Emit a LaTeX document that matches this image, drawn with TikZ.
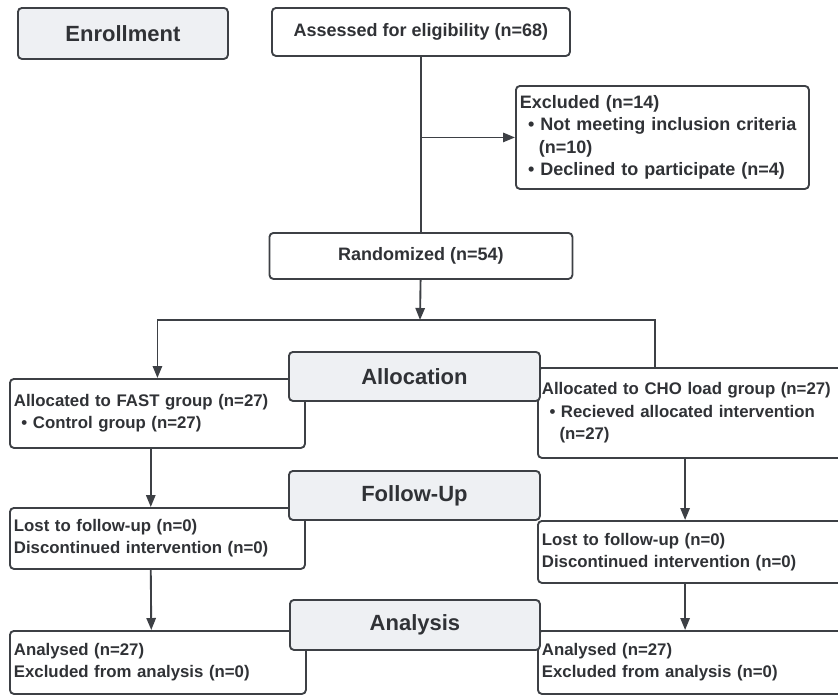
\documentclass[tikz,border=0pt]{standalone}
\usepackage{fontspec}
\setmainfont{Liberation Sans}
\usetikzlibrary{arrows.meta}

\definecolor{edge}{HTML}{3D4045}
\definecolor{hfill}{HTML}{EEF0F3}
\definecolor{ink}{HTML}{303236}
\newcommand{\bul}{\hspace*{0.45em}\textbullet\ }

\begin{document}
\begin{tikzpicture}[
x=0.75pt, y=-0.75pt,
box/.style={draw=edge, line width=1.4pt, rounded corners=3pt, fill=white, text=ink, inner xsep=3pt, anchor=north west, font=\bfseries\fontsize{13.5}{16.8}\selectfont},
hdr/.style={box, fill=hfill, font=\bfseries\fontsize{16.5}{20}\selectfont},
lbox/.style={box, align=left},
gbox/.style={lbox, font=\bfseries\fontsize{12.6}{16.8}\selectfont},
arrow/.style={-{Triangle[length=9pt,width=7pt]}, draw=edge, line width=1.4pt},
line/.style={draw=edge, line width=1.4pt}
]
\useasboundingbox (0,0) rectangle (838,694);

% enrollment
\node[box, minimum width=223.5pt, minimum height=36pt] (assessed) at (271,7) {Assessed for eligibility (n=68)};
\node[lbox, text width=213.75pt, minimum height=77.25pt] (excluded) at (515,85) {Excluded (n=14)\\
\bul Not meeting inclusion criteria\\
\hspace*{1.05em}(n=10)\\
\bul Declined to participate (n=4)};
\node[box, minimum width=227.25pt, minimum height=34.5pt] (random) at (268.5,232) {Randomized (n=54)};

% allocation
\node[gbox, text width=215.25pt, minimum height=51.75pt] (fast) at (9,378) {Allocated to FAST group (n=27)\\
\bul Control group (n=27)};
\node[gbox, text width=222.75pt, minimum height=67.5pt] (cho) at (537,367) {Allocated to CHO load group (n=27)\\
\bul Recieved allocated intervention\\
\hspace*{1.05em}(n=27)};

% follow-up
\node[gbox, text width=215.25pt, minimum height=45.75pt] (lostl) at (9,507) {Lost to follow-up (n=0)\\
Discontinued intervention (n=0)};
\node[gbox, text width=222.75pt, minimum height=46.5pt] (lostr) at (537,520) {Lost to follow-up (n=0)\\
Discontinued intervention (n=0)};

% analysis
\node[gbox, text width=216pt, minimum height=47.25pt] (anl) at (9,630) {Analysed (n=27)\\
Excluded from analysis (n=0)};
\node[gbox, text width=222.75pt, minimum height=47.25pt] (anr) at (537,630) {Analysed (n=27)\\
Excluded from analysis (n=0)};

% stage headings
\node[hdr, minimum width=157.5pt, minimum height=38.25pt] (enroll) at (17,7) {Enrollment};
\node[hdr, minimum width=188.25pt, minimum height=36.75pt] (alloc) at (288,351) {Allocation};
\node[hdr, minimum width=188.25pt, minimum height=36.75pt] (follow) at (288,470) {Follow-Up};
\node[hdr, minimum width=187.5pt, minimum height=37.5pt] (analysis) at (289,599) {Analysis};

\coordinate (split) at (420,320);
\coordinate (choin) at (655,367);

\draw[line] (assessed) -- (random);
\draw[arrow] (assessed.south |- excluded.west) -- (excluded.west);
\draw[arrow] (random) -- (split);
\draw[arrow] (split) -| (fast.north);
\draw[line] (split) -| (choin);
\draw[arrow] ([xshift=-5pt]fast.south) -- ([xshift=-5pt]lostl.north);
\draw[arrow] ([xshift=-4pt]cho.south) -- ([xshift=-4pt]lostr.north);
\draw[arrow] ([xshift=-5pt]lostl.south) -- ([xshift=-5pt]anl.north);
\draw[arrow] ([xshift=-4pt]lostr.south) -- ([xshift=-4pt]anr.north);
\end{tikzpicture}
\end{document}
